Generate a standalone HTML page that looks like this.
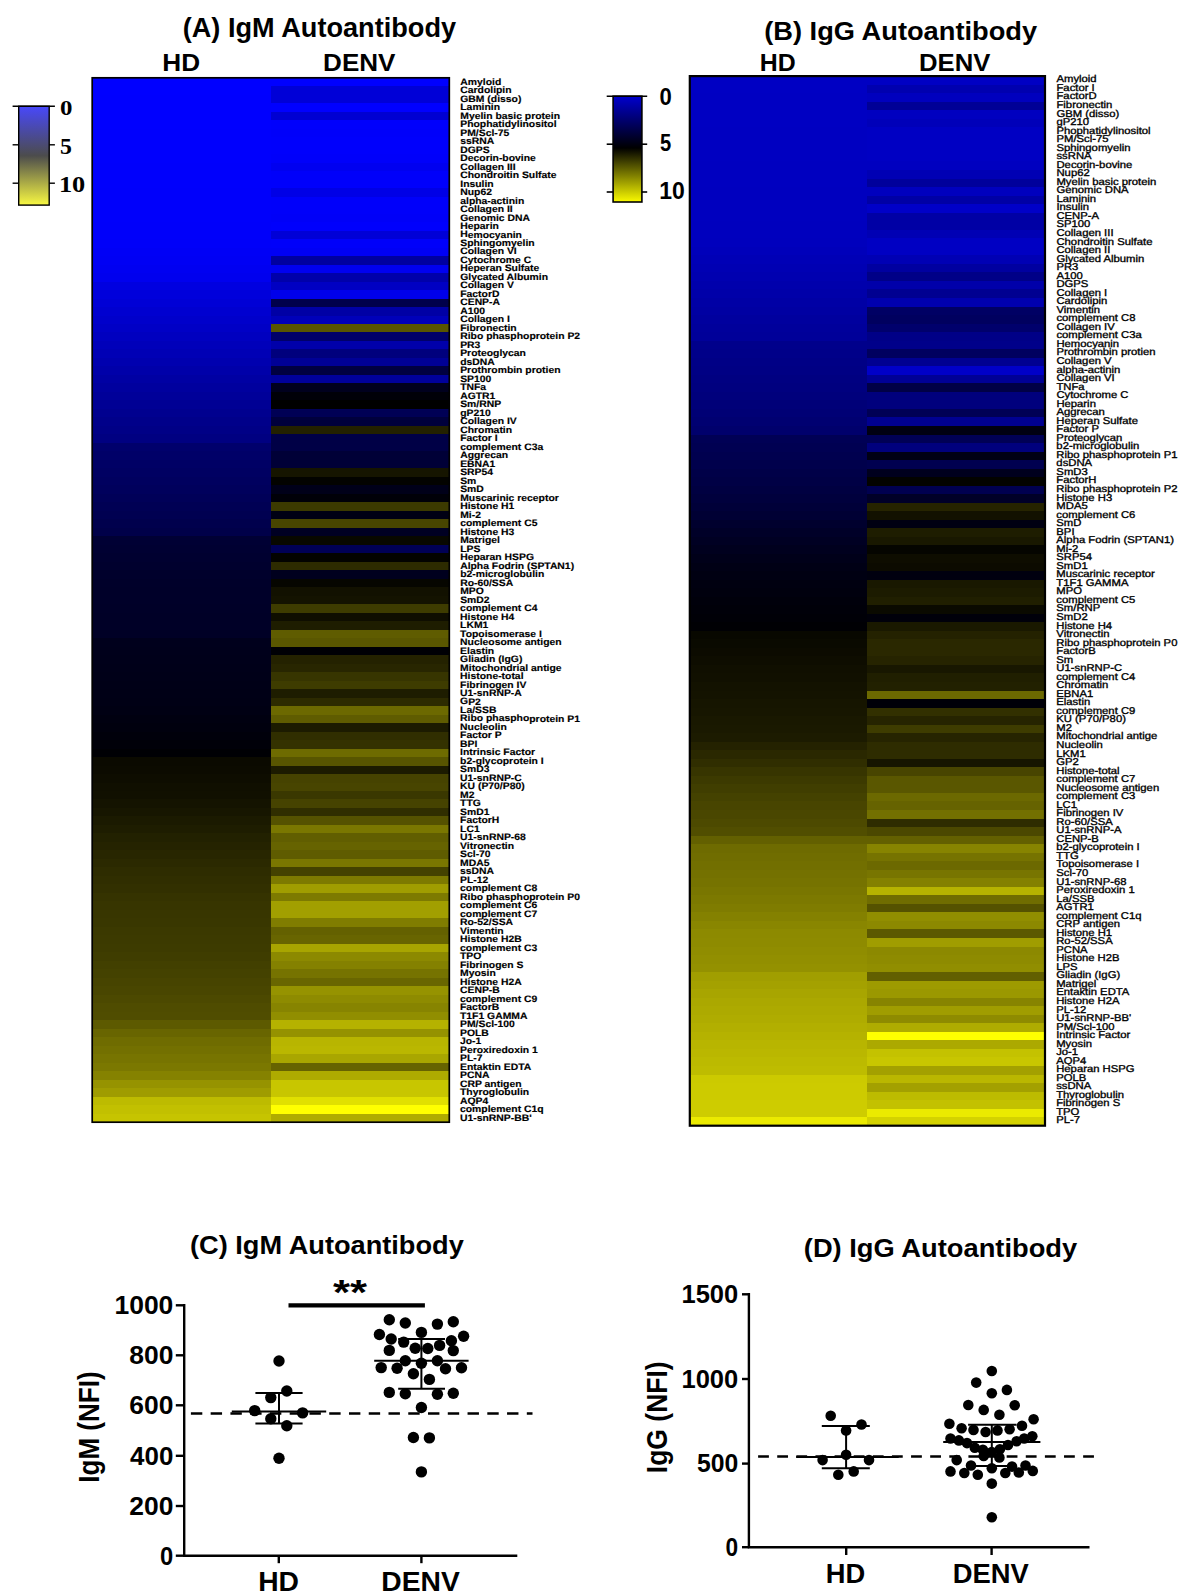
<!DOCTYPE html>
<html lang="en"><head><meta charset="utf-8"><title>Autoantibody heatmaps</title>
<style>
html,body{margin:0;padding:0;background:#fff;}
svg{display:block;}
text{font-family:"Liberation Sans",Arial,Helvetica,sans-serif;fill:#000;}
.b{font-weight:bold;}
.la{font-weight:bold;font-size:9.4px;stroke:#000;stroke-width:0.15px;}
.lb{font-weight:normal;font-size:9.9px;stroke:#000;stroke-width:0.34px;}
.ser{font-family:"Liberation Serif","DejaVu Serif",serif;font-weight:bold;}
</style></head>
<body>
<svg width="1186" height="1596" viewBox="0 0 1186 1596">
<rect x="0" y="0" width="1186" height="1596" fill="#fff"/>
<!-- Panel A -->
<text class="b" font-size="26.86" transform="translate(182.73,37.00) scale(1.0107,1)">(A) IgM Autoantibody</text>
<text class="b" font-size="23.29" transform="translate(162.26,70.60) scale(1.1253,1)">HD</text>
<text class="b" font-size="23.29" transform="translate(323.07,70.60) scale(1.1191,1)">DENV</text>
<g shape-rendering="crispEdges">
<rect x="92.2" y="77.75" width="178.6" height="9.09" fill="rgb(0,0,255)"/><rect x="270.8" y="77.75" width="178.5" height="9.09" fill="rgb(0,0,255)"/>
<rect x="92.2" y="86.24" width="178.6" height="9.09" fill="rgb(0,0,255)"/><rect x="270.8" y="86.24" width="178.5" height="9.09" fill="rgb(0,0,215)"/>
<rect x="92.2" y="94.73" width="178.6" height="9.09" fill="rgb(0,0,254)"/><rect x="270.8" y="94.73" width="178.5" height="9.09" fill="rgb(0,0,215)"/>
<rect x="92.2" y="103.22" width="178.6" height="9.09" fill="rgb(0,0,254)"/><rect x="270.8" y="103.22" width="178.5" height="9.09" fill="rgb(0,0,255)"/>
<rect x="92.2" y="111.71" width="178.6" height="9.09" fill="rgb(0,0,254)"/><rect x="270.8" y="111.71" width="178.5" height="9.09" fill="rgb(0,0,210)"/>
<rect x="92.2" y="120.21" width="178.6" height="9.09" fill="rgb(0,0,254)"/><rect x="270.8" y="120.21" width="178.5" height="9.09" fill="rgb(0,0,252)"/>
<rect x="92.2" y="128.70" width="178.6" height="9.09" fill="rgb(0,0,253)"/><rect x="270.8" y="128.70" width="178.5" height="9.09" fill="rgb(0,0,250)"/>
<rect x="92.2" y="137.19" width="178.6" height="9.09" fill="rgb(0,0,253)"/><rect x="270.8" y="137.19" width="178.5" height="9.09" fill="rgb(0,0,252)"/>
<rect x="92.2" y="145.68" width="178.6" height="9.09" fill="rgb(0,0,253)"/><rect x="270.8" y="145.68" width="178.5" height="9.09" fill="rgb(0,0,252)"/>
<rect x="92.2" y="154.17" width="178.6" height="9.09" fill="rgb(0,0,253)"/><rect x="270.8" y="154.17" width="178.5" height="9.09" fill="rgb(0,0,250)"/>
<rect x="92.2" y="162.66" width="178.6" height="9.09" fill="rgb(0,0,252)"/><rect x="270.8" y="162.66" width="178.5" height="9.09" fill="rgb(0,0,240)"/>
<rect x="92.2" y="171.15" width="178.6" height="9.09" fill="rgb(0,0,252)"/><rect x="270.8" y="171.15" width="178.5" height="9.09" fill="rgb(0,0,250)"/>
<rect x="92.2" y="179.64" width="178.6" height="9.09" fill="rgb(0,0,252)"/><rect x="270.8" y="179.64" width="178.5" height="9.09" fill="rgb(0,0,252)"/>
<rect x="92.2" y="188.13" width="178.6" height="9.09" fill="rgb(0,0,251)"/><rect x="270.8" y="188.13" width="178.5" height="9.09" fill="rgb(0,0,230)"/>
<rect x="92.2" y="196.62" width="178.6" height="9.09" fill="rgb(0,0,251)"/><rect x="270.8" y="196.62" width="178.5" height="9.09" fill="rgb(0,0,250)"/>
<rect x="92.2" y="205.12" width="178.6" height="9.09" fill="rgb(0,0,251)"/><rect x="270.8" y="205.12" width="178.5" height="9.09" fill="rgb(0,0,250)"/>
<rect x="92.2" y="213.61" width="178.6" height="9.09" fill="rgb(0,0,251)"/><rect x="270.8" y="213.61" width="178.5" height="9.09" fill="rgb(0,0,248)"/>
<rect x="92.2" y="222.10" width="178.6" height="9.09" fill="rgb(0,0,250)"/><rect x="270.8" y="222.10" width="178.5" height="9.09" fill="rgb(0,0,252)"/>
<rect x="92.2" y="230.59" width="178.6" height="9.09" fill="rgb(0,0,250)"/><rect x="270.8" y="230.59" width="178.5" height="9.09" fill="rgb(0,0,215)"/>
<rect x="92.2" y="239.08" width="178.6" height="9.09" fill="rgb(0,0,249)"/><rect x="270.8" y="239.08" width="178.5" height="9.09" fill="rgb(0,0,250)"/>
<rect x="92.2" y="247.57" width="178.6" height="9.09" fill="rgb(0,0,246)"/><rect x="270.8" y="247.57" width="178.5" height="9.09" fill="rgb(0,0,245)"/>
<rect x="92.2" y="256.06" width="178.6" height="9.09" fill="rgb(0,0,244)"/><rect x="270.8" y="256.06" width="178.5" height="9.09" fill="rgb(0,0,160)"/>
<rect x="92.2" y="264.55" width="178.6" height="9.09" fill="rgb(0,0,241)"/><rect x="270.8" y="264.55" width="178.5" height="9.09" fill="rgb(0,0,240)"/>
<rect x="92.2" y="273.04" width="178.6" height="9.09" fill="rgb(0,0,238)"/><rect x="270.8" y="273.04" width="178.5" height="9.09" fill="rgb(0,0,170)"/>
<rect x="92.2" y="281.54" width="178.6" height="9.09" fill="rgb(0,0,224)"/><rect x="270.8" y="281.54" width="178.5" height="9.09" fill="rgb(0,0,195)"/>
<rect x="92.2" y="290.03" width="178.6" height="9.09" fill="rgb(0,0,219)"/><rect x="270.8" y="290.03" width="178.5" height="9.09" fill="rgb(0,0,235)"/>
<rect x="92.2" y="298.52" width="178.6" height="9.09" fill="rgb(0,0,214)"/><rect x="270.8" y="298.52" width="178.5" height="9.09" fill="rgb(0,0,75)"/>
<rect x="92.2" y="307.01" width="178.6" height="9.09" fill="rgb(0,0,208)"/><rect x="270.8" y="307.01" width="178.5" height="9.09" fill="rgb(0,0,165)"/>
<rect x="92.2" y="315.50" width="178.6" height="9.09" fill="rgb(0,0,203)"/><rect x="270.8" y="315.50" width="178.5" height="9.09" fill="rgb(0,0,185)"/>
<rect x="92.2" y="323.99" width="178.6" height="9.09" fill="rgb(0,0,198)"/><rect x="270.8" y="323.99" width="178.5" height="9.09" fill="rgb(88,85,0)"/>
<rect x="92.2" y="332.48" width="178.6" height="9.09" fill="rgb(0,0,192)"/><rect x="270.8" y="332.48" width="178.5" height="9.09" fill="rgb(0,0,105)"/>
<rect x="92.2" y="340.97" width="178.6" height="9.09" fill="rgb(0,0,186)"/><rect x="270.8" y="340.97" width="178.5" height="9.09" fill="rgb(0,0,170)"/>
<rect x="92.2" y="349.46" width="178.6" height="9.09" fill="rgb(0,0,181)"/><rect x="270.8" y="349.46" width="178.5" height="9.09" fill="rgb(0,0,125)"/>
<rect x="92.2" y="357.95" width="178.6" height="9.09" fill="rgb(0,0,175)"/><rect x="270.8" y="357.95" width="178.5" height="9.09" fill="rgb(0,0,150)"/>
<rect x="92.2" y="366.45" width="178.6" height="9.09" fill="rgb(0,0,169)"/><rect x="270.8" y="366.45" width="178.5" height="9.09" fill="rgb(0,0,65)"/>
<rect x="92.2" y="374.94" width="178.6" height="9.09" fill="rgb(0,0,163)"/><rect x="270.8" y="374.94" width="178.5" height="9.09" fill="rgb(0,0,155)"/>
<rect x="92.2" y="383.43" width="178.6" height="9.09" fill="rgb(0,0,158)"/><rect x="270.8" y="383.43" width="178.5" height="9.09" fill="rgb(0,0,30)"/>
<rect x="92.2" y="391.92" width="178.6" height="9.09" fill="rgb(0,0,153)"/><rect x="270.8" y="391.92" width="178.5" height="9.09" fill="rgb(0,0,8)"/>
<rect x="92.2" y="400.41" width="178.6" height="9.09" fill="rgb(0,0,148)"/><rect x="270.8" y="400.41" width="178.5" height="9.09" fill="rgb(0,0,0)"/>
<rect x="92.2" y="408.90" width="178.6" height="9.09" fill="rgb(0,0,143)"/><rect x="270.8" y="408.90" width="178.5" height="9.09" fill="rgb(0,0,85)"/>
<rect x="92.2" y="417.39" width="178.6" height="9.09" fill="rgb(0,0,138)"/><rect x="270.8" y="417.39" width="178.5" height="9.09" fill="rgb(0,0,60)"/>
<rect x="92.2" y="425.88" width="178.6" height="9.09" fill="rgb(0,0,134)"/><rect x="270.8" y="425.88" width="178.5" height="9.09" fill="rgb(35,33,0)"/>
<rect x="92.2" y="434.37" width="178.6" height="9.09" fill="rgb(0,0,129)"/><rect x="270.8" y="434.37" width="178.5" height="9.09" fill="rgb(0,0,70)"/>
<rect x="92.2" y="442.87" width="178.6" height="9.09" fill="rgb(0,0,108)"/><rect x="270.8" y="442.87" width="178.5" height="9.09" fill="rgb(0,0,70)"/>
<rect x="92.2" y="451.36" width="178.6" height="9.09" fill="rgb(0,0,104)"/><rect x="270.8" y="451.36" width="178.5" height="9.09" fill="rgb(0,0,55)"/>
<rect x="92.2" y="459.85" width="178.6" height="9.09" fill="rgb(0,0,101)"/><rect x="270.8" y="459.85" width="178.5" height="9.09" fill="rgb(0,0,55)"/>
<rect x="92.2" y="468.34" width="178.6" height="9.09" fill="rgb(0,0,98)"/><rect x="270.8" y="468.34" width="178.5" height="9.09" fill="rgb(22,21,0)"/>
<rect x="92.2" y="476.83" width="178.6" height="9.09" fill="rgb(0,0,95)"/><rect x="270.8" y="476.83" width="178.5" height="9.09" fill="rgb(3,3,0)"/>
<rect x="92.2" y="485.32" width="178.6" height="9.09" fill="rgb(0,0,92)"/><rect x="270.8" y="485.32" width="178.5" height="9.09" fill="rgb(0,0,25)"/>
<rect x="92.2" y="493.81" width="178.6" height="9.09" fill="rgb(0,0,88)"/><rect x="270.8" y="493.81" width="178.5" height="9.09" fill="rgb(0,0,8)"/>
<rect x="92.2" y="502.30" width="178.6" height="9.09" fill="rgb(0,0,84)"/><rect x="270.8" y="502.30" width="178.5" height="9.09" fill="rgb(60,58,0)"/>
<rect x="92.2" y="510.79" width="178.6" height="9.09" fill="rgb(0,0,81)"/><rect x="270.8" y="510.79" width="178.5" height="9.09" fill="rgb(0,0,20)"/>
<rect x="92.2" y="519.28" width="178.6" height="9.09" fill="rgb(0,0,77)"/><rect x="270.8" y="519.28" width="178.5" height="9.09" fill="rgb(72,69,0)"/>
<rect x="92.2" y="527.78" width="178.6" height="9.09" fill="rgb(0,0,73)"/><rect x="270.8" y="527.78" width="178.5" height="9.09" fill="rgb(0,0,35)"/>
<rect x="92.2" y="536.27" width="178.6" height="9.09" fill="rgb(0,0,52)"/><rect x="270.8" y="536.27" width="178.5" height="9.09" fill="rgb(8,8,0)"/>
<rect x="92.2" y="544.76" width="178.6" height="9.09" fill="rgb(0,0,50)"/><rect x="270.8" y="544.76" width="178.5" height="9.09" fill="rgb(0,0,85)"/>
<rect x="92.2" y="553.25" width="178.6" height="9.09" fill="rgb(0,0,48)"/><rect x="270.8" y="553.25" width="178.5" height="9.09" fill="rgb(3,3,0)"/>
<rect x="92.2" y="561.74" width="178.6" height="9.09" fill="rgb(0,0,46)"/><rect x="270.8" y="561.74" width="178.5" height="9.09" fill="rgb(45,43,0)"/>
<rect x="92.2" y="570.23" width="178.6" height="9.09" fill="rgb(0,0,44)"/><rect x="270.8" y="570.23" width="178.5" height="9.09" fill="rgb(0,0,30)"/>
<rect x="92.2" y="578.72" width="178.6" height="9.09" fill="rgb(0,0,42)"/><rect x="270.8" y="578.72" width="178.5" height="9.09" fill="rgb(6,6,0)"/>
<rect x="92.2" y="587.21" width="178.6" height="9.09" fill="rgb(0,0,41)"/><rect x="270.8" y="587.21" width="178.5" height="9.09" fill="rgb(18,17,0)"/>
<rect x="92.2" y="595.70" width="178.6" height="9.09" fill="rgb(0,0,41)"/><rect x="270.8" y="595.70" width="178.5" height="9.09" fill="rgb(20,19,0)"/>
<rect x="92.2" y="604.20" width="178.6" height="9.09" fill="rgb(0,0,40)"/><rect x="270.8" y="604.20" width="178.5" height="9.09" fill="rgb(62,60,0)"/>
<rect x="92.2" y="612.69" width="178.6" height="9.09" fill="rgb(0,0,39)"/><rect x="270.8" y="612.69" width="178.5" height="9.09" fill="rgb(15,14,0)"/>
<rect x="92.2" y="621.18" width="178.6" height="9.09" fill="rgb(0,0,39)"/><rect x="270.8" y="621.18" width="178.5" height="9.09" fill="rgb(30,29,0)"/>
<rect x="92.2" y="629.67" width="178.6" height="9.09" fill="rgb(0,0,38)"/><rect x="270.8" y="629.67" width="178.5" height="9.09" fill="rgb(95,92,0)"/>
<rect x="92.2" y="638.16" width="178.6" height="9.09" fill="rgb(0,0,28)"/><rect x="270.8" y="638.16" width="178.5" height="9.09" fill="rgb(90,87,0)"/>
<rect x="92.2" y="646.65" width="178.6" height="9.09" fill="rgb(0,0,27)"/><rect x="270.8" y="646.65" width="178.5" height="9.09" fill="rgb(0,0,5)"/>
<rect x="92.2" y="655.14" width="178.6" height="9.09" fill="rgb(0,0,26)"/><rect x="270.8" y="655.14" width="178.5" height="9.09" fill="rgb(36,34,0)"/>
<rect x="92.2" y="663.63" width="178.6" height="9.09" fill="rgb(0,0,25)"/><rect x="270.8" y="663.63" width="178.5" height="9.09" fill="rgb(40,38,0)"/>
<rect x="92.2" y="672.12" width="178.6" height="9.09" fill="rgb(0,0,24)"/><rect x="270.8" y="672.12" width="178.5" height="9.09" fill="rgb(55,53,0)"/>
<rect x="92.2" y="680.62" width="178.6" height="9.09" fill="rgb(0,0,23)"/><rect x="270.8" y="680.62" width="178.5" height="9.09" fill="rgb(62,60,0)"/>
<rect x="92.2" y="689.11" width="178.6" height="9.09" fill="rgb(0,0,22)"/><rect x="270.8" y="689.11" width="178.5" height="9.09" fill="rgb(30,29,0)"/>
<rect x="92.2" y="697.60" width="178.6" height="9.09" fill="rgb(0,0,21)"/><rect x="270.8" y="697.60" width="178.5" height="9.09" fill="rgb(45,43,0)"/>
<rect x="92.2" y="706.09" width="178.6" height="9.09" fill="rgb(0,0,19)"/><rect x="270.8" y="706.09" width="178.5" height="9.09" fill="rgb(108,105,0)"/>
<rect x="92.2" y="714.58" width="178.6" height="9.09" fill="rgb(0,0,16)"/><rect x="270.8" y="714.58" width="178.5" height="9.09" fill="rgb(95,92,0)"/>
<rect x="92.2" y="723.07" width="178.6" height="9.09" fill="rgb(0,0,14)"/><rect x="270.8" y="723.07" width="178.5" height="9.09" fill="rgb(28,27,0)"/>
<rect x="92.2" y="731.56" width="178.6" height="9.09" fill="rgb(0,0,11)"/><rect x="270.8" y="731.56" width="178.5" height="9.09" fill="rgb(48,46,0)"/>
<rect x="92.2" y="740.05" width="178.6" height="9.09" fill="rgb(0,0,9)"/><rect x="270.8" y="740.05" width="178.5" height="9.09" fill="rgb(52,50,0)"/>
<rect x="92.2" y="748.54" width="178.6" height="9.09" fill="rgb(0,0,4)"/><rect x="270.8" y="748.54" width="178.5" height="9.09" fill="rgb(110,107,0)"/>
<rect x="92.2" y="757.03" width="178.6" height="9.09" fill="rgb(11,10,0)"/><rect x="270.8" y="757.03" width="178.5" height="9.09" fill="rgb(88,85,0)"/>
<rect x="92.2" y="765.53" width="178.6" height="9.09" fill="rgb(12,11,0)"/><rect x="270.8" y="765.53" width="178.5" height="9.09" fill="rgb(28,27,0)"/>
<rect x="92.2" y="774.02" width="178.6" height="9.09" fill="rgb(14,13,0)"/><rect x="270.8" y="774.02" width="178.5" height="9.09" fill="rgb(70,67,0)"/>
<rect x="92.2" y="782.51" width="178.6" height="9.09" fill="rgb(16,15,0)"/><rect x="270.8" y="782.51" width="178.5" height="9.09" fill="rgb(72,69,0)"/>
<rect x="92.2" y="791.00" width="178.6" height="9.09" fill="rgb(17,16,0)"/><rect x="270.8" y="791.00" width="178.5" height="9.09" fill="rgb(58,56,0)"/>
<rect x="92.2" y="799.49" width="178.6" height="9.09" fill="rgb(20,19,0)"/><rect x="270.8" y="799.49" width="178.5" height="9.09" fill="rgb(70,67,0)"/>
<rect x="92.2" y="807.98" width="178.6" height="9.09" fill="rgb(23,22,0)"/><rect x="270.8" y="807.98" width="178.5" height="9.09" fill="rgb(48,46,0)"/>
<rect x="92.2" y="816.47" width="178.6" height="9.09" fill="rgb(27,26,0)"/><rect x="270.8" y="816.47" width="178.5" height="9.09" fill="rgb(85,82,0)"/>
<rect x="92.2" y="824.96" width="178.6" height="9.09" fill="rgb(30,29,0)"/><rect x="270.8" y="824.96" width="178.5" height="9.09" fill="rgb(122,119,0)"/>
<rect x="92.2" y="833.45" width="178.6" height="9.09" fill="rgb(34,33,0)"/><rect x="270.8" y="833.45" width="178.5" height="9.09" fill="rgb(97,94,0)"/>
<rect x="92.2" y="841.95" width="178.6" height="9.09" fill="rgb(37,35,0)"/><rect x="270.8" y="841.95" width="178.5" height="9.09" fill="rgb(102,99,0)"/>
<rect x="92.2" y="850.44" width="178.6" height="9.09" fill="rgb(40,38,0)"/><rect x="270.8" y="850.44" width="178.5" height="9.09" fill="rgb(95,92,0)"/>
<rect x="92.2" y="858.93" width="178.6" height="9.09" fill="rgb(43,41,0)"/><rect x="270.8" y="858.93" width="178.5" height="9.09" fill="rgb(122,119,0)"/>
<rect x="92.2" y="867.42" width="178.6" height="9.09" fill="rgb(46,44,0)"/><rect x="270.8" y="867.42" width="178.5" height="9.09" fill="rgb(68,66,0)"/>
<rect x="92.2" y="875.91" width="178.6" height="9.09" fill="rgb(48,46,0)"/><rect x="270.8" y="875.91" width="178.5" height="9.09" fill="rgb(125,122,0)"/>
<rect x="92.2" y="884.40" width="178.6" height="9.09" fill="rgb(50,48,0)"/><rect x="270.8" y="884.40" width="178.5" height="9.09" fill="rgb(160,157,0)"/>
<rect x="92.2" y="892.89" width="178.6" height="9.09" fill="rgb(53,51,0)"/><rect x="270.8" y="892.89" width="178.5" height="9.09" fill="rgb(125,122,0)"/>
<rect x="92.2" y="901.38" width="178.6" height="9.09" fill="rgb(55,53,0)"/><rect x="270.8" y="901.38" width="178.5" height="9.09" fill="rgb(162,159,0)"/>
<rect x="92.2" y="909.87" width="178.6" height="9.09" fill="rgb(56,54,0)"/><rect x="270.8" y="909.87" width="178.5" height="9.09" fill="rgb(162,159,0)"/>
<rect x="92.2" y="918.36" width="178.6" height="9.09" fill="rgb(57,55,0)"/><rect x="270.8" y="918.36" width="178.5" height="9.09" fill="rgb(128,125,0)"/>
<rect x="92.2" y="926.86" width="178.6" height="9.09" fill="rgb(59,57,0)"/><rect x="270.8" y="926.86" width="178.5" height="9.09" fill="rgb(100,97,0)"/>
<rect x="92.2" y="935.35" width="178.6" height="9.09" fill="rgb(60,58,0)"/><rect x="270.8" y="935.35" width="178.5" height="9.09" fill="rgb(104,101,0)"/>
<rect x="92.2" y="943.84" width="178.6" height="9.09" fill="rgb(61,59,0)"/><rect x="270.8" y="943.84" width="178.5" height="9.09" fill="rgb(168,165,0)"/>
<rect x="92.2" y="952.33" width="178.6" height="9.09" fill="rgb(63,61,0)"/><rect x="270.8" y="952.33" width="178.5" height="9.09" fill="rgb(140,137,0)"/>
<rect x="92.2" y="960.82" width="178.6" height="9.09" fill="rgb(66,64,0)"/><rect x="270.8" y="960.82" width="178.5" height="9.09" fill="rgb(132,129,0)"/>
<rect x="92.2" y="969.31" width="178.6" height="9.09" fill="rgb(68,66,0)"/><rect x="270.8" y="969.31" width="178.5" height="9.09" fill="rgb(118,115,0)"/>
<rect x="92.2" y="977.80" width="178.6" height="9.09" fill="rgb(71,68,0)"/><rect x="270.8" y="977.80" width="178.5" height="9.09" fill="rgb(105,102,0)"/>
<rect x="92.2" y="986.29" width="178.6" height="9.09" fill="rgb(73,70,0)"/><rect x="270.8" y="986.29" width="178.5" height="9.09" fill="rgb(150,147,0)"/>
<rect x="92.2" y="994.78" width="178.6" height="9.09" fill="rgb(76,73,0)"/><rect x="270.8" y="994.78" width="178.5" height="9.09" fill="rgb(142,139,0)"/>
<rect x="92.2" y="1003.28" width="178.6" height="9.09" fill="rgb(79,76,0)"/><rect x="270.8" y="1003.28" width="178.5" height="9.09" fill="rgb(135,132,0)"/>
<rect x="92.2" y="1011.77" width="178.6" height="9.09" fill="rgb(80,77,0)"/><rect x="270.8" y="1011.77" width="178.5" height="9.09" fill="rgb(145,142,0)"/>
<rect x="92.2" y="1020.26" width="178.6" height="9.09" fill="rgb(93,90,0)"/><rect x="270.8" y="1020.26" width="178.5" height="9.09" fill="rgb(181,178,0)"/>
<rect x="92.2" y="1028.75" width="178.6" height="9.09" fill="rgb(104,101,0)"/><rect x="270.8" y="1028.75" width="178.5" height="9.09" fill="rgb(149,146,0)"/>
<rect x="92.2" y="1037.24" width="178.6" height="9.09" fill="rgb(111,108,0)"/><rect x="270.8" y="1037.24" width="178.5" height="9.09" fill="rgb(184,181,0)"/>
<rect x="92.2" y="1045.73" width="178.6" height="9.09" fill="rgb(115,112,0)"/><rect x="270.8" y="1045.73" width="178.5" height="9.09" fill="rgb(186,183,0)"/>
<rect x="92.2" y="1054.22" width="178.6" height="9.09" fill="rgb(119,116,0)"/><rect x="270.8" y="1054.22" width="178.5" height="9.09" fill="rgb(169,166,0)"/>
<rect x="92.2" y="1062.71" width="178.6" height="9.09" fill="rgb(123,120,0)"/><rect x="270.8" y="1062.71" width="178.5" height="9.09" fill="rgb(102,99,0)"/>
<rect x="92.2" y="1071.20" width="178.6" height="9.09" fill="rgb(133,130,0)"/><rect x="270.8" y="1071.20" width="178.5" height="9.09" fill="rgb(174,171,0)"/>
<rect x="92.2" y="1079.69" width="178.6" height="9.09" fill="rgb(150,147,0)"/><rect x="270.8" y="1079.69" width="178.5" height="9.09" fill="rgb(200,198,0)"/>
<rect x="92.2" y="1088.19" width="178.6" height="9.09" fill="rgb(159,156,0)"/><rect x="270.8" y="1088.19" width="178.5" height="9.09" fill="rgb(200,198,0)"/>
<rect x="92.2" y="1096.68" width="178.6" height="9.09" fill="rgb(189,187,0)"/><rect x="270.8" y="1096.68" width="178.5" height="9.09" fill="rgb(225,224,0)"/>
<rect x="92.2" y="1105.17" width="178.6" height="9.09" fill="rgb(194,192,0)"/><rect x="270.8" y="1105.17" width="178.5" height="9.09" fill="rgb(255,255,0)"/>
<rect x="92.2" y="1113.66" width="178.6" height="9.09" fill="rgb(198,196,0)"/><rect x="270.8" y="1113.66" width="178.5" height="9.09" fill="rgb(175,172,0)"/>
</g>
<rect x="92.2" y="77.8" width="357.1" height="1044.4" fill="none" stroke="#000" stroke-width="1.7"/>
<g text-rendering="geometricPrecision" transform="translate(460.3,0) scale(1.107,1) rotate(0.015)">
<text class="la" x="0" y="84.66">Amyloid</text>
<text class="la" x="0" y="93.15">Cardolipin</text>
<text class="la" x="0" y="101.64">GBM (disso)</text>
<text class="la" x="0" y="110.13">Laminin</text>
<text class="la" x="0" y="118.62">Myelin basic protein</text>
<text class="la" x="0" y="127.12">Phophatidylinositol</text>
<text class="la" x="0" y="135.61">PM/Scl-75</text>
<text class="la" x="0" y="144.10">ssRNA</text>
<text class="la" x="0" y="152.59">DGPS</text>
<text class="la" x="0" y="161.08">Decorin-bovine</text>
<text class="la" x="0" y="169.57">Collagen III</text>
<text class="la" x="0" y="178.06">Chondroitin Sulfate</text>
<text class="la" x="0" y="186.55">Insulin</text>
<text class="la" x="0" y="195.04">Nup62</text>
<text class="la" x="0" y="203.54">alpha-actinin</text>
<text class="la" x="0" y="212.03">Collagen II</text>
<text class="la" x="0" y="220.52">Genomic DNA</text>
<text class="la" x="0" y="229.01">Heparin</text>
<text class="la" x="0" y="237.50">Hemocyanin</text>
<text class="la" x="0" y="245.99">Sphingomyelin</text>
<text class="la" x="0" y="254.48">Collagen VI</text>
<text class="la" x="0" y="262.97">Cytochrome C</text>
<text class="la" x="0" y="271.46">Heperan Sulfate</text>
<text class="la" x="0" y="279.96">Glycated Albumin</text>
<text class="la" x="0" y="288.45">Collagen V</text>
<text class="la" x="0" y="296.94">FactorD</text>
<text class="la" x="0" y="305.43">CENP-A</text>
<text class="la" x="0" y="313.92">A100</text>
<text class="la" x="0" y="322.41">Collagen I</text>
<text class="la" x="0" y="330.90">Fibronectin</text>
<text class="la" x="0" y="339.39">Ribo phasphoprotein P2</text>
<text class="la" x="0" y="347.88">PR3</text>
<text class="la" x="0" y="356.37">Proteoglycan</text>
<text class="la" x="0" y="364.87">dsDNA</text>
<text class="la" x="0" y="373.36">Prothrombin protien</text>
<text class="la" x="0" y="381.85">SP100</text>
<text class="la" x="0" y="390.34">TNFa</text>
<text class="la" x="0" y="398.83">AGTR1</text>
<text class="la" x="0" y="407.32">Sm/RNP</text>
<text class="la" x="0" y="415.81">gP210</text>
<text class="la" x="0" y="424.30">Collagen IV</text>
<text class="la" x="0" y="432.79">Chromatin</text>
<text class="la" x="0" y="441.29">Factor I</text>
<text class="la" x="0" y="449.78">complement C3a</text>
<text class="la" x="0" y="458.27">Aggrecan</text>
<text class="la" x="0" y="466.76">EBNA1</text>
<text class="la" x="0" y="475.25">SRP54</text>
<text class="la" x="0" y="483.74">Sm</text>
<text class="la" x="0" y="492.23">SmD</text>
<text class="la" x="0" y="500.72">Muscarinic receptor</text>
<text class="la" x="0" y="509.21">Histone H1</text>
<text class="la" x="0" y="517.70">Mi-2</text>
<text class="la" x="0" y="526.20">complement C5</text>
<text class="la" x="0" y="534.69">Histone H3</text>
<text class="la" x="0" y="543.18">Matrigel</text>
<text class="la" x="0" y="551.67">LPS</text>
<text class="la" x="0" y="560.16">Heparan HSPG</text>
<text class="la" x="0" y="568.65">Alpha Fodrin (SPTAN1)</text>
<text class="la" x="0" y="577.14">b2-microglobulin</text>
<text class="la" x="0" y="585.63">Ro-60/SSA</text>
<text class="la" x="0" y="594.12">MPO</text>
<text class="la" x="0" y="602.62">SmD2</text>
<text class="la" x="0" y="611.11">complement C4</text>
<text class="la" x="0" y="619.60">Histone H4</text>
<text class="la" x="0" y="628.09">LKM1</text>
<text class="la" x="0" y="636.58">Topoisomerase I</text>
<text class="la" x="0" y="645.07">Nucleosome antigen</text>
<text class="la" x="0" y="653.56">Elastin</text>
<text class="la" x="0" y="662.05">Gliadin (IgG)</text>
<text class="la" x="0" y="670.54">Mitochondrial antige</text>
<text class="la" x="0" y="679.03">Histone-total</text>
<text class="la" x="0" y="687.53">Fibrinogen IV</text>
<text class="la" x="0" y="696.02">U1-snRNP-A</text>
<text class="la" x="0" y="704.51">GP2</text>
<text class="la" x="0" y="713.00">La/SSB</text>
<text class="la" x="0" y="721.49">Ribo phasphoprotein P1</text>
<text class="la" x="0" y="729.98">Nucleolin</text>
<text class="la" x="0" y="738.47">Factor P</text>
<text class="la" x="0" y="746.96">BPI</text>
<text class="la" x="0" y="755.45">Intrinsic Factor</text>
<text class="la" x="0" y="763.95">b2-glycoprotein I</text>
<text class="la" x="0" y="772.44">SmD3</text>
<text class="la" x="0" y="780.93">U1-snRNP-C</text>
<text class="la" x="0" y="789.42">KU (P70/P80)</text>
<text class="la" x="0" y="797.91">M2</text>
<text class="la" x="0" y="806.40">TTG</text>
<text class="la" x="0" y="814.89">SmD1</text>
<text class="la" x="0" y="823.38">FactorH</text>
<text class="la" x="0" y="831.87">LC1</text>
<text class="la" x="0" y="840.36">U1-snRNP-68</text>
<text class="la" x="0" y="848.86">Vitronectin</text>
<text class="la" x="0" y="857.35">Scl-70</text>
<text class="la" x="0" y="865.84">MDA5</text>
<text class="la" x="0" y="874.33">ssDNA</text>
<text class="la" x="0" y="882.82">PL-12</text>
<text class="la" x="0" y="891.31">complement C8</text>
<text class="la" x="0" y="899.80">Ribo phasphoprotein P0</text>
<text class="la" x="0" y="908.29">complement C6</text>
<text class="la" x="0" y="916.78">complement C7</text>
<text class="la" x="0" y="925.28">Ro-52/SSA</text>
<text class="la" x="0" y="933.77">Vimentin</text>
<text class="la" x="0" y="942.26">Histone H2B</text>
<text class="la" x="0" y="950.75">complement C3</text>
<text class="la" x="0" y="959.24">TPO</text>
<text class="la" x="0" y="967.73">Fibrinogen S</text>
<text class="la" x="0" y="976.22">Myosin</text>
<text class="la" x="0" y="984.71">Histone H2A</text>
<text class="la" x="0" y="993.20">CENP-B</text>
<text class="la" x="0" y="1001.69">complement C9</text>
<text class="la" x="0" y="1010.19">FactorB</text>
<text class="la" x="0" y="1018.68">T1F1 GAMMA</text>
<text class="la" x="0" y="1027.17">PM/Scl-100</text>
<text class="la" x="0" y="1035.66">POLB</text>
<text class="la" x="0" y="1044.15">Jo-1</text>
<text class="la" x="0" y="1052.64">Peroxiredoxin 1</text>
<text class="la" x="0" y="1061.13">PL-7</text>
<text class="la" x="0" y="1069.62">Entaktin EDTA</text>
<text class="la" x="0" y="1078.11">PCNA</text>
<text class="la" x="0" y="1086.61">CRP antigen</text>
<text class="la" x="0" y="1095.10">Thyroglobulin</text>
<text class="la" x="0" y="1103.59">AQP4</text>
<text class="la" x="0" y="1112.08">complement C1q</text>
<text class="la" x="0" y="1120.57">U1-snRNP-BB&#x27;</text>
</g>
<defs><linearGradient id="ga" x1="0" y1="0" x2="0" y2="1"><stop offset="0" stop-color="rgb(72,72,250)"/><stop offset="0.5" stop-color="rgb(76,76,76)"/><stop offset="1" stop-color="rgb(248,248,66)"/></linearGradient>
<linearGradient id="gb" x1="0" y1="0" x2="0" y2="1"><stop offset="0" stop-color="rgb(0,0,205)"/><stop offset="0.49" stop-color="rgb(0,0,0)"/><stop offset="1" stop-color="rgb(250,250,0)"/></linearGradient></defs>
<rect x="18.7" y="106.3" width="30.5" height="98.8" fill="url(#ga)" stroke="#000" stroke-width="1.4"/>
<g stroke="#000" stroke-width="1.4"><line x1="12.6" y1="106.3" x2="54.9" y2="106.3"/><line x1="12.6" y1="144.8" x2="18.7" y2="144.8"/><line x1="49.2" y1="144.8" x2="54.9" y2="144.8"/><line x1="12.6" y1="183.2" x2="18.7" y2="183.2"/><line x1="49.2" y1="183.2" x2="54.9" y2="183.2"/></g>
<text class="ser" font-size="21.58" transform="translate(60.02,115.10) scale(1.1546,1)">0</text>
<text class="ser" font-size="22.32" transform="translate(60.06,153.80) scale(1.0650,1)">5</text>
<text class="ser" font-size="22.32" transform="translate(58.94,192.20) scale(1.1821,1)">10</text>
<!-- Panel B -->
<text class="b" font-size="26.29" transform="translate(764.22,39.70) scale(1.0368,1)">(B) IgG Autoantibody</text>
<text class="b" font-size="24.14" transform="translate(759.85,71.20) scale(1.0300,1)">HD</text>
<text class="b" font-size="24.14" transform="translate(918.99,71.20) scale(1.0642,1)">DENV</text>
<g shape-rendering="crispEdges">
<rect x="689.8" y="76.10" width="177.6" height="9.13" fill="rgb(0,0,195)"/><rect x="867.4" y="76.10" width="177.6" height="9.13" fill="rgb(0,0,195)"/>
<rect x="689.8" y="84.63" width="177.6" height="9.13" fill="rgb(0,0,195)"/><rect x="867.4" y="84.63" width="177.6" height="9.13" fill="rgb(0,0,175)"/>
<rect x="689.8" y="93.17" width="177.6" height="9.13" fill="rgb(0,0,194)"/><rect x="867.4" y="93.17" width="177.6" height="9.13" fill="rgb(0,0,190)"/>
<rect x="689.8" y="101.70" width="177.6" height="9.13" fill="rgb(0,0,194)"/><rect x="867.4" y="101.70" width="177.6" height="9.13" fill="rgb(0,0,150)"/>
<rect x="689.8" y="110.23" width="177.6" height="9.13" fill="rgb(0,0,194)"/><rect x="867.4" y="110.23" width="177.6" height="9.13" fill="rgb(0,0,192)"/>
<rect x="689.8" y="118.77" width="177.6" height="9.13" fill="rgb(0,0,194)"/><rect x="867.4" y="118.77" width="177.6" height="9.13" fill="rgb(0,0,185)"/>
<rect x="689.8" y="127.30" width="177.6" height="9.13" fill="rgb(0,0,193)"/><rect x="867.4" y="127.30" width="177.6" height="9.13" fill="rgb(0,0,195)"/>
<rect x="689.8" y="135.83" width="177.6" height="9.13" fill="rgb(0,0,193)"/><rect x="867.4" y="135.83" width="177.6" height="9.13" fill="rgb(0,0,195)"/>
<rect x="689.8" y="144.37" width="177.6" height="9.13" fill="rgb(0,0,193)"/><rect x="867.4" y="144.37" width="177.6" height="9.13" fill="rgb(0,0,195)"/>
<rect x="689.8" y="152.90" width="177.6" height="9.13" fill="rgb(0,0,193)"/><rect x="867.4" y="152.90" width="177.6" height="9.13" fill="rgb(0,0,195)"/>
<rect x="689.8" y="161.43" width="177.6" height="9.13" fill="rgb(0,0,192)"/><rect x="867.4" y="161.43" width="177.6" height="9.13" fill="rgb(0,0,192)"/>
<rect x="689.8" y="169.97" width="177.6" height="9.13" fill="rgb(0,0,192)"/><rect x="867.4" y="169.97" width="177.6" height="9.13" fill="rgb(0,0,180)"/>
<rect x="689.8" y="178.50" width="177.6" height="9.13" fill="rgb(0,0,192)"/><rect x="867.4" y="178.50" width="177.6" height="9.13" fill="rgb(0,0,155)"/>
<rect x="689.8" y="187.03" width="177.6" height="9.13" fill="rgb(0,0,191)"/><rect x="867.4" y="187.03" width="177.6" height="9.13" fill="rgb(0,0,190)"/>
<rect x="689.8" y="195.57" width="177.6" height="9.13" fill="rgb(0,0,191)"/><rect x="867.4" y="195.57" width="177.6" height="9.13" fill="rgb(0,0,165)"/>
<rect x="689.8" y="204.10" width="177.6" height="9.13" fill="rgb(0,0,191)"/><rect x="867.4" y="204.10" width="177.6" height="9.13" fill="rgb(0,0,200)"/>
<rect x="689.8" y="212.63" width="177.6" height="9.13" fill="rgb(0,0,191)"/><rect x="867.4" y="212.63" width="177.6" height="9.13" fill="rgb(0,0,165)"/>
<rect x="689.8" y="221.17" width="177.6" height="9.13" fill="rgb(0,0,190)"/><rect x="867.4" y="221.17" width="177.6" height="9.13" fill="rgb(0,0,165)"/>
<rect x="689.8" y="229.70" width="177.6" height="9.13" fill="rgb(0,0,190)"/><rect x="867.4" y="229.70" width="177.6" height="9.13" fill="rgb(0,0,180)"/>
<rect x="689.8" y="238.23" width="177.6" height="9.13" fill="rgb(0,0,189)"/><rect x="867.4" y="238.23" width="177.6" height="9.13" fill="rgb(0,0,195)"/>
<rect x="689.8" y="246.77" width="177.6" height="9.13" fill="rgb(0,0,186)"/><rect x="867.4" y="246.77" width="177.6" height="9.13" fill="rgb(0,0,195)"/>
<rect x="689.8" y="255.30" width="177.6" height="9.13" fill="rgb(0,0,182)"/><rect x="867.4" y="255.30" width="177.6" height="9.13" fill="rgb(0,0,180)"/>
<rect x="689.8" y="263.83" width="177.6" height="9.13" fill="rgb(0,0,179)"/><rect x="867.4" y="263.83" width="177.6" height="9.13" fill="rgb(0,0,160)"/>
<rect x="689.8" y="272.37" width="177.6" height="9.13" fill="rgb(0,0,176)"/><rect x="867.4" y="272.37" width="177.6" height="9.13" fill="rgb(0,0,135)"/>
<rect x="689.8" y="280.90" width="177.6" height="9.13" fill="rgb(0,0,172)"/><rect x="867.4" y="280.90" width="177.6" height="9.13" fill="rgb(0,0,170)"/>
<rect x="689.8" y="289.43" width="177.6" height="9.13" fill="rgb(0,0,169)"/><rect x="867.4" y="289.43" width="177.6" height="9.13" fill="rgb(0,0,145)"/>
<rect x="689.8" y="297.97" width="177.6" height="9.13" fill="rgb(0,0,165)"/><rect x="867.4" y="297.97" width="177.6" height="9.13" fill="rgb(0,0,175)"/>
<rect x="689.8" y="306.50" width="177.6" height="9.13" fill="rgb(0,0,162)"/><rect x="867.4" y="306.50" width="177.6" height="9.13" fill="rgb(0,0,100)"/>
<rect x="689.8" y="315.03" width="177.6" height="9.13" fill="rgb(0,0,158)"/><rect x="867.4" y="315.03" width="177.6" height="9.13" fill="rgb(0,0,95)"/>
<rect x="689.8" y="323.57" width="177.6" height="9.13" fill="rgb(0,0,155)"/><rect x="867.4" y="323.57" width="177.6" height="9.13" fill="rgb(0,0,108)"/>
<rect x="689.8" y="332.10" width="177.6" height="9.13" fill="rgb(0,0,153)"/><rect x="867.4" y="332.10" width="177.6" height="9.13" fill="rgb(0,0,135)"/>
<rect x="689.8" y="340.63" width="177.6" height="9.13" fill="rgb(0,0,139)"/><rect x="867.4" y="340.63" width="177.6" height="9.13" fill="rgb(0,0,138)"/>
<rect x="689.8" y="349.17" width="177.6" height="9.13" fill="rgb(0,0,137)"/><rect x="867.4" y="349.17" width="177.6" height="9.13" fill="rgb(0,0,95)"/>
<rect x="689.8" y="357.70" width="177.6" height="9.13" fill="rgb(0,0,134)"/><rect x="867.4" y="357.70" width="177.6" height="9.13" fill="rgb(0,0,145)"/>
<rect x="689.8" y="366.23" width="177.6" height="9.13" fill="rgb(0,0,132)"/><rect x="867.4" y="366.23" width="177.6" height="9.13" fill="rgb(0,0,200)"/>
<rect x="689.8" y="374.77" width="177.6" height="9.13" fill="rgb(0,0,129)"/><rect x="867.4" y="374.77" width="177.6" height="9.13" fill="rgb(0,0,150)"/>
<rect x="689.8" y="383.30" width="177.6" height="9.13" fill="rgb(0,0,127)"/><rect x="867.4" y="383.30" width="177.6" height="9.13" fill="rgb(0,0,70)"/>
<rect x="689.8" y="391.83" width="177.6" height="9.13" fill="rgb(0,0,124)"/><rect x="867.4" y="391.83" width="177.6" height="9.13" fill="rgb(0,0,125)"/>
<rect x="689.8" y="400.37" width="177.6" height="9.13" fill="rgb(0,0,120)"/><rect x="867.4" y="400.37" width="177.6" height="9.13" fill="rgb(0,0,125)"/>
<rect x="689.8" y="408.90" width="177.6" height="9.13" fill="rgb(0,0,117)"/><rect x="867.4" y="408.90" width="177.6" height="9.13" fill="rgb(0,0,85)"/>
<rect x="689.8" y="417.43" width="177.6" height="9.13" fill="rgb(0,0,113)"/><rect x="867.4" y="417.43" width="177.6" height="9.13" fill="rgb(0,0,145)"/>
<rect x="689.8" y="425.97" width="177.6" height="9.13" fill="rgb(0,0,108)"/><rect x="867.4" y="425.97" width="177.6" height="9.13" fill="rgb(0,0,18)"/>
<rect x="689.8" y="434.50" width="177.6" height="9.13" fill="rgb(0,0,85)"/><rect x="867.4" y="434.50" width="177.6" height="9.13" fill="rgb(0,0,85)"/>
<rect x="689.8" y="443.03" width="177.6" height="9.13" fill="rgb(0,0,82)"/><rect x="867.4" y="443.03" width="177.6" height="9.13" fill="rgb(0,0,125)"/>
<rect x="689.8" y="451.57" width="177.6" height="9.13" fill="rgb(0,0,79)"/><rect x="867.4" y="451.57" width="177.6" height="9.13" fill="rgb(0,0,20)"/>
<rect x="689.8" y="460.10" width="177.6" height="9.13" fill="rgb(0,0,76)"/><rect x="867.4" y="460.10" width="177.6" height="9.13" fill="rgb(0,0,80)"/>
<rect x="689.8" y="468.63" width="177.6" height="9.13" fill="rgb(0,0,72)"/><rect x="867.4" y="468.63" width="177.6" height="9.13" fill="rgb(0,0,30)"/>
<rect x="689.8" y="477.17" width="177.6" height="9.13" fill="rgb(0,0,69)"/><rect x="867.4" y="477.17" width="177.6" height="9.13" fill="rgb(3,3,0)"/>
<rect x="689.8" y="485.70" width="177.6" height="9.13" fill="rgb(0,0,65)"/><rect x="867.4" y="485.70" width="177.6" height="9.13" fill="rgb(0,0,80)"/>
<rect x="689.8" y="494.23" width="177.6" height="9.13" fill="rgb(0,0,61)"/><rect x="867.4" y="494.23" width="177.6" height="9.13" fill="rgb(0,0,40)"/>
<rect x="689.8" y="502.77" width="177.6" height="9.13" fill="rgb(0,0,57)"/><rect x="867.4" y="502.77" width="177.6" height="9.13" fill="rgb(38,36,0)"/>
<rect x="689.8" y="511.30" width="177.6" height="9.13" fill="rgb(0,0,52)"/><rect x="867.4" y="511.30" width="177.6" height="9.13" fill="rgb(18,17,0)"/>
<rect x="689.8" y="519.83" width="177.6" height="9.13" fill="rgb(0,0,46)"/><rect x="867.4" y="519.83" width="177.6" height="9.13" fill="rgb(0,0,18)"/>
<rect x="689.8" y="528.37" width="177.6" height="9.13" fill="rgb(0,0,40)"/><rect x="867.4" y="528.37" width="177.6" height="9.13" fill="rgb(30,29,0)"/>
<rect x="689.8" y="536.90" width="177.6" height="9.13" fill="rgb(0,0,35)"/><rect x="867.4" y="536.90" width="177.6" height="9.13" fill="rgb(25,24,0)"/>
<rect x="689.8" y="545.43" width="177.6" height="9.13" fill="rgb(0,0,30)"/><rect x="867.4" y="545.43" width="177.6" height="9.13" fill="rgb(5,5,0)"/>
<rect x="689.8" y="553.97" width="177.6" height="9.13" fill="rgb(0,0,25)"/><rect x="867.4" y="553.97" width="177.6" height="9.13" fill="rgb(14,13,0)"/>
<rect x="689.8" y="562.50" width="177.6" height="9.13" fill="rgb(0,0,21)"/><rect x="867.4" y="562.50" width="177.6" height="9.13" fill="rgb(12,11,0)"/>
<rect x="689.8" y="571.03" width="177.6" height="9.13" fill="rgb(0,0,18)"/><rect x="867.4" y="571.03" width="177.6" height="9.13" fill="rgb(0,0,15)"/>
<rect x="689.8" y="579.57" width="177.6" height="9.13" fill="rgb(0,0,16)"/><rect x="867.4" y="579.57" width="177.6" height="9.13" fill="rgb(25,24,0)"/>
<rect x="689.8" y="588.10" width="177.6" height="9.13" fill="rgb(0,0,14)"/><rect x="867.4" y="588.10" width="177.6" height="9.13" fill="rgb(28,27,0)"/>
<rect x="689.8" y="596.63" width="177.6" height="9.13" fill="rgb(0,0,11)"/><rect x="867.4" y="596.63" width="177.6" height="9.13" fill="rgb(32,31,0)"/>
<rect x="689.8" y="605.17" width="177.6" height="9.13" fill="rgb(0,0,9)"/><rect x="867.4" y="605.17" width="177.6" height="9.13" fill="rgb(10,10,0)"/>
<rect x="689.8" y="613.70" width="177.6" height="9.13" fill="rgb(0,0,7)"/><rect x="867.4" y="613.70" width="177.6" height="9.13" fill="rgb(0,0,10)"/>
<rect x="689.8" y="622.23" width="177.6" height="9.13" fill="rgb(0,0,4)"/><rect x="867.4" y="622.23" width="177.6" height="9.13" fill="rgb(26,25,0)"/>
<rect x="689.8" y="630.77" width="177.6" height="9.13" fill="rgb(8,8,0)"/><rect x="867.4" y="630.77" width="177.6" height="9.13" fill="rgb(36,34,0)"/>
<rect x="689.8" y="639.30" width="177.6" height="9.13" fill="rgb(10,10,0)"/><rect x="867.4" y="639.30" width="177.6" height="9.13" fill="rgb(42,40,0)"/>
<rect x="689.8" y="647.83" width="177.6" height="9.13" fill="rgb(12,11,0)"/><rect x="867.4" y="647.83" width="177.6" height="9.13" fill="rgb(42,40,0)"/>
<rect x="689.8" y="656.37" width="177.6" height="9.13" fill="rgb(14,13,0)"/><rect x="867.4" y="656.37" width="177.6" height="9.13" fill="rgb(38,36,0)"/>
<rect x="689.8" y="664.90" width="177.6" height="9.13" fill="rgb(16,15,0)"/><rect x="867.4" y="664.90" width="177.6" height="9.13" fill="rgb(24,23,0)"/>
<rect x="689.8" y="673.43" width="177.6" height="9.13" fill="rgb(17,16,0)"/><rect x="867.4" y="673.43" width="177.6" height="9.13" fill="rgb(32,31,0)"/>
<rect x="689.8" y="681.97" width="177.6" height="9.13" fill="rgb(19,18,0)"/><rect x="867.4" y="681.97" width="177.6" height="9.13" fill="rgb(34,33,0)"/>
<rect x="689.8" y="690.50" width="177.6" height="9.13" fill="rgb(20,19,0)"/><rect x="867.4" y="690.50" width="177.6" height="9.13" fill="rgb(108,105,0)"/>
<rect x="689.8" y="699.03" width="177.6" height="9.13" fill="rgb(22,21,0)"/><rect x="867.4" y="699.03" width="177.6" height="9.13" fill="rgb(0,0,8)"/>
<rect x="689.8" y="707.57" width="177.6" height="9.13" fill="rgb(23,22,0)"/><rect x="867.4" y="707.57" width="177.6" height="9.13" fill="rgb(50,48,0)"/>
<rect x="689.8" y="716.10" width="177.6" height="9.13" fill="rgb(25,24,0)"/><rect x="867.4" y="716.10" width="177.6" height="9.13" fill="rgb(38,36,0)"/>
<rect x="689.8" y="724.63" width="177.6" height="9.13" fill="rgb(26,25,0)"/><rect x="867.4" y="724.63" width="177.6" height="9.13" fill="rgb(62,60,0)"/>
<rect x="689.8" y="733.17" width="177.6" height="9.13" fill="rgb(28,27,0)"/><rect x="867.4" y="733.17" width="177.6" height="9.13" fill="rgb(38,36,0)"/>
<rect x="689.8" y="741.70" width="177.6" height="9.13" fill="rgb(36,34,0)"/><rect x="867.4" y="741.70" width="177.6" height="9.13" fill="rgb(46,44,0)"/>
<rect x="689.8" y="750.23" width="177.6" height="9.13" fill="rgb(42,40,0)"/><rect x="867.4" y="750.23" width="177.6" height="9.13" fill="rgb(46,44,0)"/>
<rect x="689.8" y="758.77" width="177.6" height="9.13" fill="rgb(48,46,0)"/><rect x="867.4" y="758.77" width="177.6" height="9.13" fill="rgb(22,21,0)"/>
<rect x="689.8" y="767.30" width="177.6" height="9.13" fill="rgb(55,53,0)"/><rect x="867.4" y="767.30" width="177.6" height="9.13" fill="rgb(72,69,0)"/>
<rect x="689.8" y="775.83" width="177.6" height="9.13" fill="rgb(60,58,0)"/><rect x="867.4" y="775.83" width="177.6" height="9.13" fill="rgb(90,87,0)"/>
<rect x="689.8" y="784.37" width="177.6" height="9.13" fill="rgb(64,62,0)"/><rect x="867.4" y="784.37" width="177.6" height="9.13" fill="rgb(90,87,0)"/>
<rect x="689.8" y="792.90" width="177.6" height="9.13" fill="rgb(68,66,0)"/><rect x="867.4" y="792.90" width="177.6" height="9.13" fill="rgb(108,105,0)"/>
<rect x="689.8" y="801.43" width="177.6" height="9.13" fill="rgb(72,69,0)"/><rect x="867.4" y="801.43" width="177.6" height="9.13" fill="rgb(102,99,0)"/>
<rect x="689.8" y="809.97" width="177.6" height="9.13" fill="rgb(74,71,0)"/><rect x="867.4" y="809.97" width="177.6" height="9.13" fill="rgb(115,112,0)"/>
<rect x="689.8" y="818.50" width="177.6" height="9.13" fill="rgb(77,74,0)"/><rect x="867.4" y="818.50" width="177.6" height="9.13" fill="rgb(46,44,0)"/>
<rect x="689.8" y="827.03" width="177.6" height="9.13" fill="rgb(81,78,0)"/><rect x="867.4" y="827.03" width="177.6" height="9.13" fill="rgb(75,72,0)"/>
<rect x="689.8" y="835.57" width="177.6" height="9.13" fill="rgb(99,96,0)"/><rect x="867.4" y="835.57" width="177.6" height="9.13" fill="rgb(99,96,0)"/>
<rect x="689.8" y="844.10" width="177.6" height="9.13" fill="rgb(110,107,0)"/><rect x="867.4" y="844.10" width="177.6" height="9.13" fill="rgb(135,132,0)"/>
<rect x="689.8" y="852.63" width="177.6" height="9.13" fill="rgb(112,109,0)"/><rect x="867.4" y="852.63" width="177.6" height="9.13" fill="rgb(118,115,0)"/>
<rect x="689.8" y="861.17" width="177.6" height="9.13" fill="rgb(114,111,0)"/><rect x="867.4" y="861.17" width="177.6" height="9.13" fill="rgb(108,105,0)"/>
<rect x="689.8" y="869.70" width="177.6" height="9.13" fill="rgb(116,113,0)"/><rect x="867.4" y="869.70" width="177.6" height="9.13" fill="rgb(120,117,0)"/>
<rect x="689.8" y="878.23" width="177.6" height="9.13" fill="rgb(118,115,0)"/><rect x="867.4" y="878.23" width="177.6" height="9.13" fill="rgb(132,129,0)"/>
<rect x="689.8" y="886.77" width="177.6" height="9.13" fill="rgb(121,118,0)"/><rect x="867.4" y="886.77" width="177.6" height="9.13" fill="rgb(182,179,0)"/>
<rect x="689.8" y="895.30" width="177.6" height="9.13" fill="rgb(124,121,0)"/><rect x="867.4" y="895.30" width="177.6" height="9.13" fill="rgb(112,109,0)"/>
<rect x="689.8" y="903.83" width="177.6" height="9.13" fill="rgb(127,124,0)"/><rect x="867.4" y="903.83" width="177.6" height="9.13" fill="rgb(85,82,0)"/>
<rect x="689.8" y="912.37" width="177.6" height="9.13" fill="rgb(132,129,0)"/><rect x="867.4" y="912.37" width="177.6" height="9.13" fill="rgb(145,142,0)"/>
<rect x="689.8" y="920.90" width="177.6" height="9.13" fill="rgb(137,134,0)"/><rect x="867.4" y="920.90" width="177.6" height="9.13" fill="rgb(140,137,0)"/>
<rect x="689.8" y="929.43" width="177.6" height="9.13" fill="rgb(141,138,0)"/><rect x="867.4" y="929.43" width="177.6" height="9.13" fill="rgb(92,89,0)"/>
<rect x="689.8" y="937.97" width="177.6" height="9.13" fill="rgb(142,139,0)"/><rect x="867.4" y="937.97" width="177.6" height="9.13" fill="rgb(160,157,0)"/>
<rect x="689.8" y="946.50" width="177.6" height="9.13" fill="rgb(144,141,0)"/><rect x="867.4" y="946.50" width="177.6" height="9.13" fill="rgb(140,137,0)"/>
<rect x="689.8" y="955.03" width="177.6" height="9.13" fill="rgb(146,143,0)"/><rect x="867.4" y="955.03" width="177.6" height="9.13" fill="rgb(142,139,0)"/>
<rect x="689.8" y="963.57" width="177.6" height="9.13" fill="rgb(148,145,0)"/><rect x="867.4" y="963.57" width="177.6" height="9.13" fill="rgb(145,142,0)"/>
<rect x="689.8" y="972.10" width="177.6" height="9.13" fill="rgb(161,158,0)"/><rect x="867.4" y="972.10" width="177.6" height="9.13" fill="rgb(98,95,0)"/>
<rect x="689.8" y="980.63" width="177.6" height="9.13" fill="rgb(164,161,0)"/><rect x="867.4" y="980.63" width="177.6" height="9.13" fill="rgb(158,155,0)"/>
<rect x="689.8" y="989.17" width="177.6" height="9.13" fill="rgb(168,165,0)"/><rect x="867.4" y="989.17" width="177.6" height="9.13" fill="rgb(155,152,0)"/>
<rect x="689.8" y="997.70" width="177.6" height="9.13" fill="rgb(171,168,0)"/><rect x="867.4" y="997.70" width="177.6" height="9.13" fill="rgb(135,132,0)"/>
<rect x="689.8" y="1006.23" width="177.6" height="9.13" fill="rgb(173,170,0)"/><rect x="867.4" y="1006.23" width="177.6" height="9.13" fill="rgb(160,157,0)"/>
<rect x="689.8" y="1014.77" width="177.6" height="9.13" fill="rgb(175,172,0)"/><rect x="867.4" y="1014.77" width="177.6" height="9.13" fill="rgb(142,139,0)"/>
<rect x="689.8" y="1023.30" width="177.6" height="9.13" fill="rgb(178,175,0)"/><rect x="867.4" y="1023.30" width="177.6" height="9.13" fill="rgb(175,172,0)"/>
<rect x="689.8" y="1031.83" width="177.6" height="9.13" fill="rgb(181,178,0)"/><rect x="867.4" y="1031.83" width="177.6" height="9.13" fill="rgb(255,255,0)"/>
<rect x="689.8" y="1040.37" width="177.6" height="9.13" fill="rgb(184,181,0)"/><rect x="867.4" y="1040.37" width="177.6" height="9.13" fill="rgb(172,169,0)"/>
<rect x="689.8" y="1048.90" width="177.6" height="9.13" fill="rgb(186,183,0)"/><rect x="867.4" y="1048.90" width="177.6" height="9.13" fill="rgb(196,194,0)"/>
<rect x="689.8" y="1057.43" width="177.6" height="9.13" fill="rgb(188,186,0)"/><rect x="867.4" y="1057.43" width="177.6" height="9.13" fill="rgb(200,198,0)"/>
<rect x="689.8" y="1065.97" width="177.6" height="9.13" fill="rgb(190,188,0)"/><rect x="867.4" y="1065.97" width="177.6" height="9.13" fill="rgb(163,160,0)"/>
<rect x="689.8" y="1074.50" width="177.6" height="9.13" fill="rgb(204,202,0)"/><rect x="867.4" y="1074.50" width="177.6" height="9.13" fill="rgb(186,183,0)"/>
<rect x="689.8" y="1083.03" width="177.6" height="9.13" fill="rgb(205,203,0)"/><rect x="867.4" y="1083.03" width="177.6" height="9.13" fill="rgb(163,160,0)"/>
<rect x="689.8" y="1091.57" width="177.6" height="9.13" fill="rgb(205,203,0)"/><rect x="867.4" y="1091.57" width="177.6" height="9.13" fill="rgb(189,187,0)"/>
<rect x="689.8" y="1100.10" width="177.6" height="9.13" fill="rgb(206,204,0)"/><rect x="867.4" y="1100.10" width="177.6" height="9.13" fill="rgb(195,193,0)"/>
<rect x="689.8" y="1108.63" width="177.6" height="9.13" fill="rgb(206,204,0)"/><rect x="867.4" y="1108.63" width="177.6" height="9.13" fill="rgb(235,234,0)"/>
<rect x="689.8" y="1117.17" width="177.6" height="9.13" fill="rgb(235,234,0)"/><rect x="867.4" y="1117.17" width="177.6" height="9.13" fill="rgb(212,210,0)"/>
</g>
<rect x="689.8" y="76.1" width="355.2" height="1049.6" fill="none" stroke="#000" stroke-width="2.2"/>
<g text-rendering="geometricPrecision" transform="translate(1056.5,0) scale(1.143,1) rotate(0.015)">
<text class="lb" x="0" y="82.41">Amyloid</text>
<text class="lb" x="0" y="90.94">Factor I</text>
<text class="lb" x="0" y="99.48">FactorD</text>
<text class="lb" x="0" y="108.01">Fibronectin</text>
<text class="lb" x="0" y="116.54">GBM (disso)</text>
<text class="lb" x="0" y="125.08">gP210</text>
<text class="lb" x="0" y="133.61">Phophatidylinositol</text>
<text class="lb" x="0" y="142.14">PM/Scl-75</text>
<text class="lb" x="0" y="150.68">Sphingomyelin</text>
<text class="lb" x="0" y="159.21">ssRNA</text>
<text class="lb" x="0" y="167.74">Decorin-bovine</text>
<text class="lb" x="0" y="176.28">Nup62</text>
<text class="lb" x="0" y="184.81">Myelin basic protein</text>
<text class="lb" x="0" y="193.34">Genomic DNA</text>
<text class="lb" x="0" y="201.88">Laminin</text>
<text class="lb" x="0" y="210.41">Insulin</text>
<text class="lb" x="0" y="218.94">CENP-A</text>
<text class="lb" x="0" y="227.48">SP100</text>
<text class="lb" x="0" y="236.01">Collagen III</text>
<text class="lb" x="0" y="244.54">Chondroitin Sulfate</text>
<text class="lb" x="0" y="253.08">Collagen II</text>
<text class="lb" x="0" y="261.61">Glycated Albumin</text>
<text class="lb" x="0" y="270.14">PR3</text>
<text class="lb" x="0" y="278.68">A100</text>
<text class="lb" x="0" y="287.21">DGPS</text>
<text class="lb" x="0" y="295.74">Collagen I</text>
<text class="lb" x="0" y="304.28">Cardolipin</text>
<text class="lb" x="0" y="312.81">Vimentin</text>
<text class="lb" x="0" y="321.34">complement C8</text>
<text class="lb" x="0" y="329.88">Collagen IV</text>
<text class="lb" x="0" y="338.41">complement C3a</text>
<text class="lb" x="0" y="346.94">Hemocyanin</text>
<text class="lb" x="0" y="355.48">Prothrombin protien</text>
<text class="lb" x="0" y="364.01">Collagen V</text>
<text class="lb" x="0" y="372.54">alpha-actinin</text>
<text class="lb" x="0" y="381.08">Collagen VI</text>
<text class="lb" x="0" y="389.61">TNFa</text>
<text class="lb" x="0" y="398.14">Cytochrome C</text>
<text class="lb" x="0" y="406.68">Heparin</text>
<text class="lb" x="0" y="415.21">Aggrecan</text>
<text class="lb" x="0" y="423.74">Heperan Sulfate</text>
<text class="lb" x="0" y="432.28">Factor P</text>
<text class="lb" x="0" y="440.81">Proteoglycan</text>
<text class="lb" x="0" y="449.34">b2-microglobulin</text>
<text class="lb" x="0" y="457.88">Ribo phasphoprotein P1</text>
<text class="lb" x="0" y="466.41">dsDNA</text>
<text class="lb" x="0" y="474.94">SmD3</text>
<text class="lb" x="0" y="483.48">FactorH</text>
<text class="lb" x="0" y="492.01">Ribo phasphoprotein P2</text>
<text class="lb" x="0" y="500.54">Histone H3</text>
<text class="lb" x="0" y="509.08">MDA5</text>
<text class="lb" x="0" y="517.61">complement C6</text>
<text class="lb" x="0" y="526.14">SmD</text>
<text class="lb" x="0" y="534.68">BPI</text>
<text class="lb" x="0" y="543.21">Alpha Fodrin (SPTAN1)</text>
<text class="lb" x="0" y="551.74">Mi-2</text>
<text class="lb" x="0" y="560.28">SRP54</text>
<text class="lb" x="0" y="568.81">SmD1</text>
<text class="lb" x="0" y="577.34">Muscarinic receptor</text>
<text class="lb" x="0" y="585.88">T1F1 GAMMA</text>
<text class="lb" x="0" y="594.41">MPO</text>
<text class="lb" x="0" y="602.94">complement C5</text>
<text class="lb" x="0" y="611.48">Sm/RNP</text>
<text class="lb" x="0" y="620.01">SmD2</text>
<text class="lb" x="0" y="628.54">Histone H4</text>
<text class="lb" x="0" y="637.08">Vitronectin</text>
<text class="lb" x="0" y="645.61">Ribo phasphoprotein P0</text>
<text class="lb" x="0" y="654.14">FactorB</text>
<text class="lb" x="0" y="662.68">Sm</text>
<text class="lb" x="0" y="671.21">U1-snRNP-C</text>
<text class="lb" x="0" y="679.74">complement C4</text>
<text class="lb" x="0" y="688.28">Chromatin</text>
<text class="lb" x="0" y="696.81">EBNA1</text>
<text class="lb" x="0" y="705.34">Elastin</text>
<text class="lb" x="0" y="713.88">complement C9</text>
<text class="lb" x="0" y="722.41">KU (P70/P80)</text>
<text class="lb" x="0" y="730.94">M2</text>
<text class="lb" x="0" y="739.48">Mitochondrial antige</text>
<text class="lb" x="0" y="748.01">Nucleolin</text>
<text class="lb" x="0" y="756.54">LKM1</text>
<text class="lb" x="0" y="765.08">GP2</text>
<text class="lb" x="0" y="773.61">Histone-total</text>
<text class="lb" x="0" y="782.14">complement C7</text>
<text class="lb" x="0" y="790.68">Nucleosome antigen</text>
<text class="lb" x="0" y="799.21">complement C3</text>
<text class="lb" x="0" y="807.74">LC1</text>
<text class="lb" x="0" y="816.28">Fibrinogen IV</text>
<text class="lb" x="0" y="824.81">Ro-60/SSA</text>
<text class="lb" x="0" y="833.34">U1-snRNP-A</text>
<text class="lb" x="0" y="841.88">CENP-B</text>
<text class="lb" x="0" y="850.41">b2-glycoprotein I</text>
<text class="lb" x="0" y="858.94">TTG</text>
<text class="lb" x="0" y="867.48">Topoisomerase I</text>
<text class="lb" x="0" y="876.01">Scl-70</text>
<text class="lb" x="0" y="884.54">U1-snRNP-68</text>
<text class="lb" x="0" y="893.08">Peroxiredoxin 1</text>
<text class="lb" x="0" y="901.61">La/SSB</text>
<text class="lb" x="0" y="910.14">AGTR1</text>
<text class="lb" x="0" y="918.68">complement C1q</text>
<text class="lb" x="0" y="927.21">CRP antigen</text>
<text class="lb" x="0" y="935.74">Histone H1</text>
<text class="lb" x="0" y="944.28">Ro-52/SSA</text>
<text class="lb" x="0" y="952.81">PCNA</text>
<text class="lb" x="0" y="961.34">Histone H2B</text>
<text class="lb" x="0" y="969.88">LPS</text>
<text class="lb" x="0" y="978.41">Gliadin (IgG)</text>
<text class="lb" x="0" y="986.94">Matrigel</text>
<text class="lb" x="0" y="995.48">Entaktin EDTA</text>
<text class="lb" x="0" y="1004.01">Histone H2A</text>
<text class="lb" x="0" y="1012.54">PL-12</text>
<text class="lb" x="0" y="1021.08">U1-snRNP-BB&#x27;</text>
<text class="lb" x="0" y="1029.61">PM/Scl-100</text>
<text class="lb" x="0" y="1038.14">Intrinsic Factor</text>
<text class="lb" x="0" y="1046.68">Myosin</text>
<text class="lb" x="0" y="1055.21">Jo-1</text>
<text class="lb" x="0" y="1063.74">AQP4</text>
<text class="lb" x="0" y="1072.28">Heparan HSPG</text>
<text class="lb" x="0" y="1080.81">POLB</text>
<text class="lb" x="0" y="1089.34">ssDNA</text>
<text class="lb" x="0" y="1097.88">Thyroglobulin</text>
<text class="lb" x="0" y="1106.41">Fibrinogen S</text>
<text class="lb" x="0" y="1114.94">TPO</text>
<text class="lb" x="0" y="1123.48">PL-7</text>
</g>
<rect x="613.1" y="96.2" width="28.8" height="105.8" fill="url(#gb)" stroke="#000" stroke-width="1.6"/>
<g stroke="#000" stroke-width="1.6"><line x1="606.7" y1="96.2" x2="647.2" y2="96.2"/><line x1="606.7" y1="144.2" x2="613.1" y2="144.2"/><line x1="641.9" y1="144.2" x2="647.2" y2="144.2"/><line x1="606.7" y1="192" x2="613.1" y2="192"/><line x1="641.9" y1="192" x2="647.2" y2="192"/></g>
<text class="b" font-size="23.43" transform="translate(659.51,104.80) scale(0.9429,1)">0</text>
<text class="b" font-size="23.29" transform="translate(659.88,151.40) scale(0.8662,1)">5</text>
<text class="b" font-size="23.29" transform="translate(659.26,199.40) scale(0.9872,1)">10</text>
<!-- Panel C -->
<text class="b" font-size="26.29" transform="translate(190.03,1254.40) scale(1.0342,1)">(C) IgM Autoantibody</text>
<g stroke="#000" stroke-width="2.4" fill="none"><path d="M184.2 1304.1 V1555.7 H517.3"/><line x1="175.8" y1="1305.3" x2="184.4" y2="1305.3"/><line x1="175.8" y1="1355.3" x2="184.4" y2="1355.3"/><line x1="175.8" y1="1405.3" x2="184.4" y2="1405.3"/><line x1="175.8" y1="1455.8" x2="184.4" y2="1455.8"/><line x1="175.8" y1="1506.0" x2="184.4" y2="1506.0"/><line x1="175.8" y1="1555.7" x2="184.4" y2="1555.7"/><line x1="278.8" y1="1555.7" x2="278.8" y2="1563.2"/><line x1="421.4" y1="1555.7" x2="421.4" y2="1563.2"/></g>
<text class="b" font-size="25.43" transform="translate(114.44,1314.20) scale(1.0417,1)">1000</text>
<text class="b" font-size="25.43" transform="translate(129.27,1364.20) scale(1.0394,1)">800</text>
<text class="b" font-size="25.43" transform="translate(129.27,1414.20) scale(1.0394,1)">600</text>
<text class="b" font-size="25.43" transform="translate(130.10,1464.70) scale(1.0194,1)">400</text>
<text class="b" font-size="25.43" transform="translate(129.27,1514.90) scale(1.0394,1)">200</text>
<text class="b" font-size="25.43" transform="translate(160.06,1564.60) scale(0.9337,1)">0</text>
<text class="b" font-size="27.43" transform="translate(258.13,1591.00) scale(1.0311,1)">HD</text>
<text class="b" font-size="27.43" transform="translate(381.23,1591.00) scale(1.0305,1)">DENV</text>
<text class="b" font-size="30.29" transform="translate(99.00,1482.63) rotate(-90) scale(0.8591,1)">IgM (NFI)</text>
<line x1="288.5" y1="1305.3" x2="424.9" y2="1305.3" stroke="#000" stroke-width="4.3"/>
<text class="b" font-size="35.43" transform="translate(332.90,1304.20) scale(1.2343,1)">**</text>
<line x1="190.9" y1="1413.5" x2="532.5" y2="1413.5" stroke="#000" stroke-width="2.5" stroke-dasharray="11.4 8.36"/>
<g fill="#000"><circle cx="279.0" cy="1361.0" r="5.7"/><circle cx="286.8" cy="1391.0" r="5.7"/><circle cx="270.8" cy="1397.6" r="5.7"/><circle cx="254.7" cy="1410.6" r="5.7"/><circle cx="302.6" cy="1412.9" r="5.7"/><circle cx="270.8" cy="1418.8" r="5.7"/><circle cx="286.8" cy="1425.7" r="5.7"/><circle cx="279.0" cy="1458.2" r="5.7"/><circle cx="389.3" cy="1319.7" r="5.7"/><circle cx="405.3" cy="1323.0" r="5.7"/><circle cx="437.4" cy="1324.1" r="5.7"/><circle cx="453.3" cy="1321.8" r="5.7"/><circle cx="421.4" cy="1332.4" r="5.7"/><circle cx="379.4" cy="1334.5" r="5.7"/><circle cx="463.6" cy="1336.2" r="5.7"/><circle cx="391.2" cy="1339.0" r="5.7"/><circle cx="403.7" cy="1342.1" r="5.7"/><circle cx="451.4" cy="1340.7" r="5.7"/><circle cx="389.3" cy="1350.4" r="5.7"/><circle cx="415.2" cy="1348.2" r="5.7"/><circle cx="427.8" cy="1348.5" r="5.7"/><circle cx="439.6" cy="1345.4" r="5.7"/><circle cx="453.3" cy="1350.6" r="5.7"/><circle cx="405.3" cy="1360.7" r="5.7"/><circle cx="421.4" cy="1363.3" r="5.7"/><circle cx="437.4" cy="1360.7" r="5.7"/><circle cx="381.2" cy="1367.6" r="5.7"/><circle cx="397.1" cy="1368.3" r="5.7"/><circle cx="445.5" cy="1368.8" r="5.7"/><circle cx="461.5" cy="1367.8" r="5.7"/><circle cx="413.4" cy="1373.7" r="5.7"/><circle cx="429.4" cy="1379.4" r="5.7"/><circle cx="389.3" cy="1392.4" r="5.7"/><circle cx="405.3" cy="1393.8" r="5.7"/><circle cx="437.4" cy="1394.3" r="5.7"/><circle cx="453.3" cy="1393.3" r="5.7"/><circle cx="421.4" cy="1407.5" r="5.7"/><circle cx="413.4" cy="1437.5" r="5.7"/><circle cx="429.4" cy="1437.9" r="5.7"/><circle cx="421.4" cy="1471.9" r="5.7"/></g>
<g stroke="#000" stroke-width="2.0"><line x1="231.8" y1="1411.5" x2="326.2" y2="1411.5"/><line x1="255.4" y1="1392.9" x2="302.6" y2="1392.9"/><line x1="255.4" y1="1423.5" x2="302.6" y2="1423.5"/><line x1="279.0" y1="1392.9" x2="279.0" y2="1423.5"/></g>
<g stroke="#000" stroke-width="2.0"><line x1="374.2" y1="1360.7" x2="468.6" y2="1360.7"/><line x1="398.2" y1="1339.0" x2="445.0" y2="1339.0"/><line x1="398.2" y1="1388.8" x2="445.0" y2="1388.8"/><line x1="421.4" y1="1339.0" x2="421.4" y2="1388.8"/></g>
<!-- Panel D -->
<text class="b" font-size="25.86" transform="translate(803.82,1257.30) scale(1.0556,1)">(D) IgG Autoantibody</text>
<g stroke="#000" stroke-width="2.4" fill="none"><path d="M748.9 1293.1 V1547.2 H1089.5"/><line x1="742.0" y1="1294.3" x2="748.9" y2="1294.3"/><line x1="742.0" y1="1379.0" x2="748.9" y2="1379.0"/><line x1="742.0" y1="1463.6" x2="748.9" y2="1463.6"/><line x1="742.0" y1="1547.2" x2="748.9" y2="1547.2"/><line x1="846.2" y1="1547.2" x2="846.2" y2="1555" /><line x1="991.6" y1="1547.2" x2="991.6" y2="1555" /></g>
<text class="b" font-size="24.86" transform="translate(681.51,1303.20) scale(1.0259,1)">1500</text>
<text class="b" font-size="24.86" transform="translate(681.51,1387.70) scale(1.0259,1)">1000</text>
<text class="b" font-size="24.86" transform="translate(696.91,1472.00) scale(0.9956,1)">500</text>
<text class="b" font-size="24.86" transform="translate(725.49,1556.00) scale(0.9136,1)">0</text>
<text class="b" font-size="27.71" transform="translate(825.79,1582.50) scale(0.9856,1)">HD</text>
<text class="b" font-size="27.71" transform="translate(952.69,1582.50) scale(0.9880,1)">DENV</text>
<text class="b" font-size="28.71" transform="translate(667.30,1473.16) rotate(-90) scale(0.9225,1)">IgG (NFI)</text>
<line x1="758.1" y1="1456.5" x2="1094.1" y2="1456.5" stroke="#000" stroke-width="2.6" stroke-dasharray="10.8 8.32"/>
<g fill="#000"><circle cx="830.7" cy="1415.8" r="5.3"/><circle cx="861.5" cy="1424.5" r="5.3"/><circle cx="846.1" cy="1430.4" r="5.3"/><circle cx="846.1" cy="1454.7" r="5.3"/><circle cx="822.6" cy="1460.1" r="5.3"/><circle cx="869.0" cy="1460.1" r="5.3"/><circle cx="838.3" cy="1474.7" r="5.3"/><circle cx="853.7" cy="1471.4" r="5.3"/><circle cx="991.8" cy="1371.0" r="5.3"/><circle cx="976.2" cy="1382.6" r="5.3"/><circle cx="1006.9" cy="1389.9" r="5.3"/><circle cx="991.8" cy="1393.2" r="5.3"/><circle cx="968.3" cy="1405.0" r="5.3"/><circle cx="1014.7" cy="1405.3" r="5.3"/><circle cx="983.7" cy="1409.9" r="5.3"/><circle cx="999.4" cy="1414.8" r="5.3"/><circle cx="1033.6" cy="1419.3" r="5.3"/><circle cx="949.4" cy="1423.7" r="5.3"/><circle cx="1022.0" cy="1425.8" r="5.3"/><circle cx="961.6" cy="1428.2" r="5.3"/><circle cx="973.5" cy="1429.9" r="5.3"/><circle cx="985.6" cy="1432.0" r="5.3"/><circle cx="997.5" cy="1430.4" r="5.3"/><circle cx="1009.6" cy="1429.3" r="5.3"/><circle cx="1032.3" cy="1436.3" r="5.3"/><circle cx="950.5" cy="1438.5" r="5.3"/><circle cx="1024.2" cy="1438.5" r="5.3"/><circle cx="958.9" cy="1440.4" r="5.3"/><circle cx="1016.6" cy="1441.2" r="5.3"/><circle cx="967.0" cy="1443.1" r="5.3"/><circle cx="1008.0" cy="1445.0" r="5.3"/><circle cx="974.8" cy="1447.7" r="5.3"/><circle cx="982.9" cy="1449.8" r="5.3"/><circle cx="991.8" cy="1452.0" r="5.3"/><circle cx="999.9" cy="1449.3" r="5.3"/><circle cx="983.7" cy="1456.0" r="5.3"/><circle cx="999.4" cy="1457.4" r="5.3"/><circle cx="956.7" cy="1460.1" r="5.3"/><circle cx="971.0" cy="1465.5" r="5.3"/><circle cx="991.8" cy="1468.2" r="5.3"/><circle cx="1012.0" cy="1466.6" r="5.3"/><circle cx="1025.5" cy="1465.5" r="5.3"/><circle cx="950.5" cy="1471.4" r="5.3"/><circle cx="964.3" cy="1473.0" r="5.3"/><circle cx="977.8" cy="1474.7" r="5.3"/><circle cx="1005.3" cy="1473.0" r="5.3"/><circle cx="1018.8" cy="1472.5" r="5.3"/><circle cx="1032.8" cy="1470.9" r="5.3"/><circle cx="991.8" cy="1483.6" r="5.3"/><circle cx="991.8" cy="1517.3" r="5.3"/></g>
<g stroke="#000" stroke-width="2.0"><line x1="796.2" y1="1457.1" x2="898.7" y2="1457.1"/><line x1="821.8" y1="1426.1" x2="869.8" y2="1426.1"/><line x1="821.8" y1="1468.2" x2="869.8" y2="1468.2"/><line x1="846.1" y1="1426.1" x2="846.1" y2="1468.2"/></g>
<g stroke="#000" stroke-width="2.0"><line x1="943.2" y1="1442.0" x2="1040.4" y2="1442.0"/><line x1="968.1" y1="1424.7" x2="1016.6" y2="1424.7"/><line x1="968.1" y1="1466.0" x2="1016.6" y2="1466.0"/><line x1="991.8" y1="1424.7" x2="991.8" y2="1466.0"/></g>
</svg>
</body></html>
